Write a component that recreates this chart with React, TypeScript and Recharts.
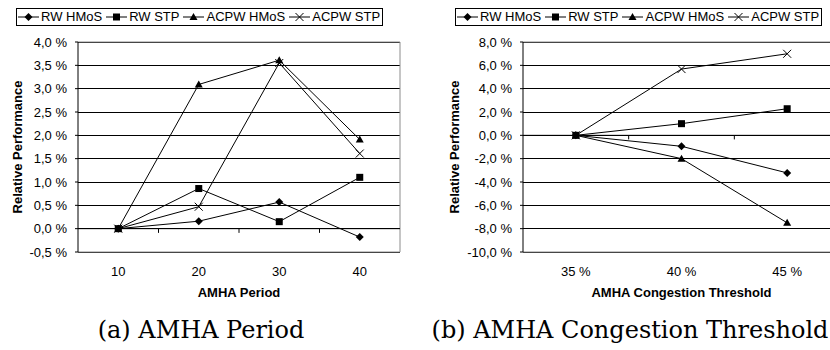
import React from 'react';
import { LineChart, Line, XAxis, YAxis, CartesianGrid, Legend, ReferenceLine } from 'recharts';

// (a) AMHA period
const periods = [10, 20, 30, 40];
const rwHmosPeriod = [0, 0.16, 0.57, -0.18];
const rwStpPeriod = [0, 0.86, 0.15, 1.1];
const acpwHmosPeriod = [0, 3.09, 3.61, 1.91];
const acpwStpPeriod = [0, 0.47, 3.55, 1.61];
const periodTicks = [-0.5, 0, 0.5, 1, 1.5, 2, 2.5, 3, 3.5, 4];
const periodTickMarks = [15, 25, 35];

// (b) AMHA congestion threshold
const thresholds = [35, 40, 45];
const rwHmosThr = [0, -0.94, -3.22];
const rwStpThr = [0, 1.0, 2.28];
const acpwHmosThr = [0, -2.0, -7.5];
const acpwStpThr = [0, 5.68, 6.99];
const thrTicks = [-10, -8, -6, -4, -2, 0, 2, 4, 6, 8];
const thrTickMarks = [37.5, 42.5];

const seriesNames = ['RW HMoS', 'RW STP', 'ACPW HMoS', 'ACPW STP'];
const seriesKeys = ['rwHmos', 'rwStp', 'acpwHmos', 'acpwStp'];
const shapes = ['diamond', 'square', 'triangle', 'cross'];

const periodData = periods.map((x, i) => ({
  x,
  rwHmos: rwHmosPeriod[i],
  rwStp: rwStpPeriod[i],
  acpwHmos: acpwHmosPeriod[i],
  acpwStp: acpwStpPeriod[i],
}));

const thrData = thresholds.map((x, i) => ({
  x,
  rwHmos: rwHmosThr[i],
  rwStp: rwStpThr[i],
  acpwHmos: acpwHmosThr[i],
  acpwStp: acpwStpThr[i],
}));

const FONT = '"Liberation Sans", Arial, sans-serif';
const GRAY = '#8c8c8c';

function Marker({ shape, cx, cy }: { shape: string; cx: number; cy: number }) {
  if (cx == null || cy == null) return null;
  if (shape === 'diamond') {
    const r = 4;
    return <polygon points={`${cx},${cy - r} ${cx + r},${cy} ${cx},${cy + r} ${cx - r},${cy}`} fill="#000" />;
  }
  if (shape === 'square') {
    return <rect x={cx - 3.5} y={cy - 3.5} width={7} height={7} fill="#000" />;
  }
  if (shape === 'triangle') {
    return <polygon points={`${cx},${cy - 4} ${cx + 4},${cy + 3} ${cx - 4},${cy + 3}`} fill="#000" />;
  }
  return (
    <g stroke="#000" strokeWidth={1}>
      <line x1={cx - 4} y1={cy - 4} x2={cx + 4} y2={cy + 4} />
      <line x1={cx - 4} y1={cy + 4} x2={cx + 4} y2={cy - 4} />
    </g>
  );
}

function LegendBox() {
  return (
    <div
      style={{
        display: 'flex',
        alignItems: 'center',
        border: '1px solid #000',
        background: '#fff',
        padding: '0 2px 0 1px',
        fontFamily: FONT,
        fontSize: 13,
        lineHeight: '16px',
        whiteSpace: 'nowrap',
      }}
    >
      {seriesNames.map((name, i) => (
        <span key={name} style={{ display: 'flex', alignItems: 'center', marginRight: i < 3 ? 4 : 0 }}>
          <svg width={21} height={12} style={{ marginRight: 2 }}>
            <line x1={0} y1={6} x2={21} y2={6} stroke="#000" />
            <Marker shape={shapes[i]} cx={10.5} cy={6} />
          </svg>
          {name}
        </span>
      ))}
    </div>
  );
}

const fmtPct = (v: number) => `${v.toFixed(1).replace('.', ',')} %`;

interface PanelProps {
  data: any[];
  width: number;
  yWidth: number;
  labelOffset: number;
  legendLeft: number;
  xDomain: [number, number];
  xTicks: number[];
  xFormat: (v: number) => string;
  xTitle: string;
  yDomain: [number, number];
  yTicks: number[];
  tickMarks: number[];
  tickLen: number;
}

function Panel(p: PanelProps) {
  return (
    <LineChart width={p.width} height={300} data={p.data} margin={{ top: 42, right: 15, bottom: 0, left: 0 }}>
      <CartesianGrid vertical={false} stroke="#000" shapeRendering="crispEdges" />
      <XAxis
        dataKey="x"
        type="number"
        domain={p.xDomain}
        ticks={p.xTicks}
        tickFormatter={p.xFormat}
        allowDataOverflow
        height={48}
        axisLine={false}
        tickLine={false}
        tickSize={0}
        tickMargin={15}
        tick={{ fontFamily: FONT, fontSize: 13, fill: '#000' }}
        label={{ value: p.xTitle, position: 'insideBottom', offset: 3, style: { fontFamily: FONT, fontSize: 13, fontWeight: 'bold', fill: '#000' } }}
      />
      <YAxis
        domain={p.yDomain}
        ticks={p.yTicks}
        interval={0}
        width={p.yWidth}
        tickFormatter={fmtPct}
        axisLine={{ stroke: '#000' }}
        tickLine={{ stroke: '#000' }}
        tickSize={3}
        tickMargin={8}
        tick={{ fontFamily: FONT, fontSize: 13, fill: '#000' }}
        label={{
          value: 'Relative Performance',
          angle: -90,
          position: 'insideLeft',
          offset: p.labelOffset,
          style: { fontFamily: FONT, fontSize: 13, fontWeight: 'bold', fill: '#000', textAnchor: 'middle' },
        }}
      />
      <ReferenceLine y={p.yDomain[1]} stroke={GRAY} />
      <ReferenceLine y={p.yDomain[0]} stroke={GRAY} />
      <ReferenceLine x={p.xDomain[1]} stroke={GRAY} />
      <ReferenceLine y={0} stroke="#000" />
      {p.tickMarks.map((t) => (
        <ReferenceLine key={t} segment={[{ x: t, y: 0 }, { x: t, y: -p.tickLen }]} stroke="#000" />
      ))}
      <Legend
        layout="horizontal"
        verticalAlign="middle"
        align="center"
        wrapperStyle={{ top: 8, left: p.legendLeft, width: 'auto', height: 'auto' }}
        content={() => <LegendBox />}
      />
      {seriesKeys.map((k, i) => (
        <Line
          key={k}
          dataKey={k}
          name={seriesNames[i]}
          type="linear"
          stroke="#000"
          strokeWidth={1}
          isAnimationActive={false}
          dot={(props: any) => <Marker key={`${k}-${props.index}`} shape={shapes[i]} cx={props.cx} cy={props.cy} />}
          activeDot={false}
        />
      ))}
    </LineChart>
  );
}

const captionStyle: React.CSSProperties = {
  position: 'absolute',
  top: 315,
  transform: 'translateX(-50%)',
  fontFamily: '"DejaVu Serif", serif',
  fontSize: 24,
  lineHeight: '30px',
  whiteSpace: 'nowrap',
  color: '#000',
};

export default function App() {
  return (
    <div style={{ position: 'absolute', left: 0, top: 0, width: 830, height: 350, overflow: 'hidden', background: '#fff' }}>
      <div style={{ position: 'absolute', left: 0, top: 0 }}>
        <Panel
          data={periodData}
          width={415}
          yWidth={78}
          labelOffset={17}
          legendLeft={16}
          xDomain={[5, 45]}
          xTicks={periods}
          xFormat={(v) => `${v}`}
          xTitle="AMHA Period"
          yDomain={[-0.5, 4]}
          yTicks={periodTicks}
          tickMarks={periodTickMarks}
          tickLen={0.09}
        />
      </div>
      <div style={{ position: 'absolute', left: 415, top: 0 }}>
        <Panel
          data={thrData}
          width={440}
          yWidth={108}
          labelOffset={39}
          legendLeft={40}
          xDomain={[32.5, 47.5]}
          xTicks={thresholds}
          xFormat={(v) => `${v} %`}
          xTitle="AMHA Congestion Threshold"
          yDomain={[-10, 8]}
          yTicks={thrTicks}
          tickMarks={thrTickMarks}
          tickLen={0.35}
        />
      </div>
      <div style={{ ...captionStyle, left: 201 }}>(a) AMHA Period</div>
      <div style={{ ...captionStyle, left: 630 }}>(b) AMHA Congestion Threshold</div>
    </div>
  );
}
